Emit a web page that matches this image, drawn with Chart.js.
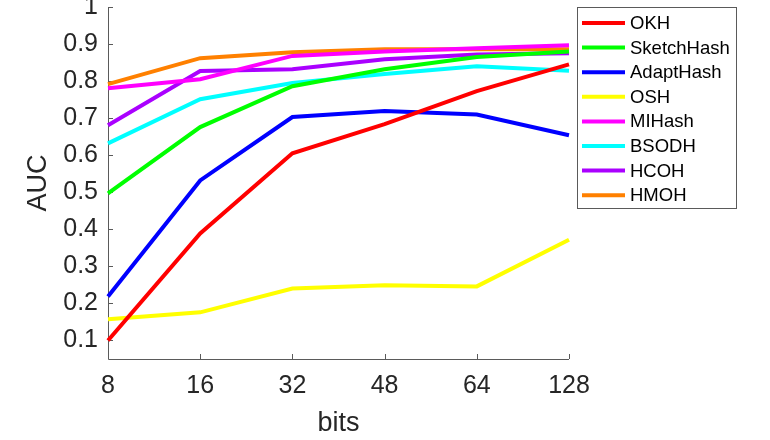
<!DOCTYPE html>
<html>
<head>
<meta charset="utf-8">
<script src="https://cdn.jsdelivr.net/npm/chart.js@4.4.1/dist/chart.umd.min.js"></script>
<style>
  html, body { margin: 0; padding: 0; background: #fff; }
  #wrap { width: 770px; height: 440px; }
</style>
</head>
<body>
<div id="wrap"><canvas id="c"></canvas></div>
<script>
// datos
const bits = ['8', '16', '32', '48', '64', '128'];
const yTicks = [0.1, 0.2, 0.3, 0.4, 0.5, 0.6, 0.7, 0.8, 0.9, 1];

const okh        = [0.100, 0.389, 0.605, 0.684, 0.773, 0.845];
const sketchHash = [0.497, 0.676, 0.786, 0.832, 0.865, 0.880];
const adaptHash  = [0.219, 0.532, 0.703, 0.719, 0.710, 0.654];
const osh        = [0.157, 0.176, 0.240, 0.249, 0.246, 0.372];
const miHash     = [0.781, 0.805, 0.868, 0.880, 0.889, 0.897];
const bsodh      = [0.632, 0.751, 0.795, 0.819, 0.840, 0.828];
const hcoh       = [0.681, 0.827, 0.832, 0.859, 0.872, 0.875];
const hmoh       = [0.792, 0.862, 0.878, 0.886, 0.886, 0.886];

const names  = ['OKH', 'SketchHash', 'AdaptHash', 'OSH', 'MIHash', 'BSODH', 'HCOH', 'HMOH'];
const series = [okh, sketchHash, adaptHash, osh, miHash, bsodh, hcoh, hmoh];
const colors = ['#ff0000', '#00ff00', '#0000ff', '#ffff00', '#ff00ff', '#00ffff', '#aa00ff', '#ff8000'];

const FONT = "'Liberation Sans', Arial, sans-serif";
const AXIS = '#5a5a5a';
const TXT = '#262626';

// ejes estilo matlab: ticks hacia dentro + leyenda con borde
const matlabPlugin = {
  id: 'matlab',
  beforeDatasetsDraw(chart) {
    const { ctx, chartArea: a, scales } = chart;
    ctx.save();
    ctx.strokeStyle = AXIS;
    ctx.lineWidth = 1;
    ctx.beginPath();
    ctx.moveTo(a.left + 0.5, a.top);
    ctx.lineTo(a.left + 0.5, a.bottom + 0.5);
    ctx.lineTo(a.right, a.bottom + 0.5);
    scales.y.ticks.forEach(t => {
      const y = Math.round(scales.y.getPixelForValue(t.value)) + 0.5;
      ctx.moveTo(a.left, y);
      ctx.lineTo(a.left + 5, y);
    });
    bits.forEach((b, i) => {
      const x = Math.round(scales.x.getPixelForValue(i)) + 0.5;
      ctx.moveTo(x, a.bottom);
      ctx.lineTo(x, a.bottom - 5);
    });
    ctx.stroke();
    ctx.restore();
  },
  afterDraw(chart) {
    const ctx = chart.ctx;
    const lx = 577, ly = 7, lw = 159, lh = 201;
    ctx.save();
    ctx.fillStyle = '#fff';
    ctx.fillRect(lx, ly, lw, lh);
    ctx.strokeStyle = AXIS;
    ctx.lineWidth = 1;
    ctx.strokeRect(lx + 0.5, ly + 0.5, lw, lh);
    ctx.font = '18.5px ' + FONT;
    ctx.textBaseline = 'middle';
    chart.data.datasets.forEach((ds, i) => {
      const y = 23 + i * 24.6;
      ctx.strokeStyle = ds.borderColor;
      ctx.lineWidth = 4;
      ctx.beginPath();
      ctx.moveTo(582, y);
      ctx.lineTo(625, y);
      ctx.stroke();
      ctx.fillStyle = '#000';
      ctx.fillText(ds.label, 630, y + 1);
    });
    ctx.restore();
  }
};

new Chart(document.getElementById('c'), {
  type: 'line',
  data: {
    labels: bits,
    datasets: series.map((s, i) => ({
      label: names[i],
      data: s,
      borderColor: colors[i],
      backgroundColor: colors[i],
      borderWidth: 4,
      pointRadius: 0,
      tension: 0,
      fill: false
    }))
  },
  options: {
    responsive: true,
    maintainAspectRatio: false,
    animation: false,
    layout: { padding: { left: 0, right: 201, top: 7, bottom: 0 } },
    plugins: { legend: { display: false }, tooltip: { enabled: false } },
    scales: {
      x: {
        type: 'category',
        offset: false,
        grid: { display: false, drawTicks: false },
        border: { display: false },
        ticks: { color: TXT, font: { family: FONT, size: 25 }, padding: 12, maxRotation: 0 },
        title: { display: true, text: 'bits', color: TXT, font: { family: FONT, size: 27 }, padding: { top: 2, bottom: 0 } },
        afterFit(s) { s.height = 81; s.paddingLeft = 0; s.paddingRight = 0; }
      },
      y: {
        min: 0.05,
        max: 1,
        grid: { display: false, drawTicks: false },
        border: { display: false },
        afterBuildTicks(s) { s.ticks = yTicks.map(v => ({ value: v })); },
        ticks: {
          color: TXT, font: { family: FONT, size: 25 }, padding: 10,
          callback: v => String(Math.round(v * 10) / 10)
        },
        title: { display: true, text: 'AUC', color: TXT, font: { family: FONT, size: 27 }, padding: { top: 22, bottom: 0 } },
        afterFit(s) { s.width = 108; s.paddingTop = 0; s.paddingBottom = 0; }
      }
    }
  },
  plugins: [matlabPlugin]
});
</script>
</body>
</html>
